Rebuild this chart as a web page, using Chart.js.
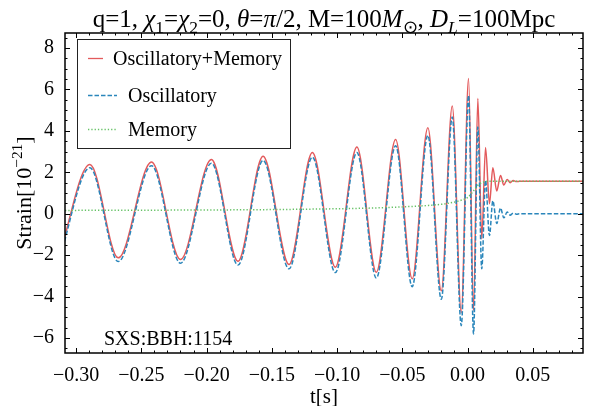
<!DOCTYPE html>
<html>
<head>
<meta charset="utf-8">
<script src="https://cdn.jsdelivr.net/npm/chart.js@4.4.1/dist/chart.umd.min.js"></script>
<style>
  html, body { margin: 0; padding: 0; background: #fff; }
  #wrap { width: 596px; height: 406px; }
</style>
</head>
<body>
<div id="wrap"><canvas id="chart" width="596" height="406"></canvas></div>
<script>
(function(){
  // extrema of the waveform (t in s, strain in 1e-21)
  const extremaTimes = [-0.3130, -0.2894, -0.2677, -0.2422, -0.2200, -0.1963, -0.1759, -0.1567,
    -0.1368, -0.1189, -0.1013, -0.0848, -0.0699, -0.0551, -0.0424, -0.0304, -0.0201, -0.0117,
    -0.0048, 0.0008, 0.0046, 0.0079, 0.0109, 0.0138, 0.0168, 0.0194, 0.0224, 0.0253, 0.0278,
    0.0304, 0.0327, 0.0350, 0.0375, 0.0400, 0.0885];
  const totalStrain = [-2.05, 2.38, -2.13, 2.49, -2.21, 2.62, -2.29, 2.77,
    -2.45, 2.95, -2.58, 3.22, -2.82, 3.58, -3.14, 4.15, -3.72, 5.20,
    -4.78, 6.52, -4.67, 5.56, -1.21, 3.19, 0.48, 2.22, 1.10, 1.85, 1.38,
    1.65, 1.50, 1.60, 1.55, 1.57, 1.57];
  const oscStrain = [-2.23, 2.22, -2.31, 2.32, -2.39, 2.44, -2.48, 2.57,
    -2.66, 2.73, -2.84, 2.95, -3.10, 3.28, -3.52, 3.78, -4.13, 4.67,
    -5.40, 5.71, -5.80, 4.18, -2.66, 1.61, -1.05, 0.62, -0.47, 0.28, -0.20,
    0.08, -0.07, 0.03, -0.02, 0.00, 0.00];
  const memoryTimes = [-0.3085, -0.25, -0.20, -0.15, -0.10, -0.07, -0.05, -0.03, -0.015,
    -0.005, 0.000, 0.004, 0.008, 0.012, 0.016, 0.0885];
  const memoryStrain = [0.16, 0.17, 0.18, 0.20, 0.24, 0.28, 0.33, 0.40, 0.50,
    0.65, 0.78, 1.05, 1.38, 1.52, 1.57, 1.57];

  const xTickValues = [-0.30, -0.25, -0.20, -0.15, -0.10, -0.05, 0.00, 0.05];
  const yTickValues = [-6, -4, -2, 0, 2, 4, 6, 8];
  const seriesNames = ["Oscillatory+Memory", "Oscillatory", "Memory"];

  const RED = "#e35a5c", BLUE = "#2a86bb", GREEN = "#66c266";
  const FONT = "'Liberation Serif', 'Times New Roman', serif";

  const toPoints = (xs, ys) => xs.map((x, i) => ({ x: x, y: ys[i] }));
  const minusSign = s => String(s).replace("-", "\u2212");

  function runsWidth(ctx, runs, size){
    let w = 0;
    runs.forEach(r => {
      const s = (r.sub || r.sup) ? size * 0.7 : size;
      ctx.font = (r.i ? "italic " : "") + s + "px " + FONT;
      w += ctx.measureText(r.t).width;
    });
    return w;
  }

  function drawRuns(ctx, runs, x, y, size){
    ctx.textBaseline = "alphabetic";
    ctx.textAlign = "left";
    runs.forEach(r => {
      const s = (r.sub || r.sup) ? size * 0.7 : size;
      ctx.font = (r.i ? "italic " : "") + s + "px " + FONT;
      let dy = 0;
      if (r.sub) dy = size * 0.22;
      if (r.sup) dy = -size * 0.42;
      ctx.fillText(r.t, x, y + dy);
      x += ctx.measureText(r.t).width;
    });
  }

  const decorations = {
    id: "decorations",
    afterDatasetsDraw(chart){
      const { ctx, chartArea: a, scales: { x, y } } = chart;
      ctx.save();
      ctx.strokeStyle = "#000";
      ctx.lineWidth = 1;
      ctx.beginPath();
      // minor + major ticks, pointing inward on all four sides
      for (let k = -31; k <= 8; k++) {
        const px = Math.round(x.getPixelForValue(k / 100)) + 0.5;
        if (px < a.left || px > a.right) continue;
        const len = (k % 5 === 0) ? 5 : 2.5;
        ctx.moveTo(px, a.bottom); ctx.lineTo(px, a.bottom - len);
        ctx.moveTo(px, a.top); ctx.lineTo(px, a.top + len);
      }
      for (let k = -14; k <= 18; k++) {
        const py = Math.round(y.getPixelForValue(k / 2)) + 0.5;
        if (py < a.top || py > a.bottom) continue;
        const len = (k % 4 === 0) ? 5 : 2.5;
        ctx.moveTo(a.left, py); ctx.lineTo(a.left + len, py);
        ctx.moveTo(a.right, py); ctx.lineTo(a.right - len, py);
      }
      ctx.stroke();
      ctx.lineWidth = 1.5;
      ctx.strokeRect(a.left, a.top, a.right - a.left, a.bottom - a.top);

      // legend box
      ctx.lineWidth = 1;
      ctx.strokeStyle = "#222";
      ctx.fillStyle = "#fff";
      ctx.fillRect(77.5, 39.5, 213, 109);
      ctx.strokeRect(77.5, 39.5, 213, 109);
      const rows = [
        { name: seriesNames[0], color: RED, dash: [], y: 58.5, x1: 103, tx: 113 },
        { name: seriesNames[1], color: BLUE, dash: [4.5, 2], y: 95.5, x1: 117, tx: 128 },
        { name: seriesNames[2], color: GREEN, dash: [1.3, 2], y: 129.5, x1: 117, tx: 128 }
      ];
      rows.forEach(r => {
        ctx.strokeStyle = r.color;
        ctx.lineWidth = 1.3;
        ctx.setLineDash(r.dash);
        ctx.beginPath();
        ctx.moveTo(88, r.y); ctx.lineTo(r.x1, r.y);
        ctx.stroke();
        ctx.setLineDash([]);
        ctx.fillStyle = "#000";
        ctx.font = "20px " + FONT;
        ctx.textBaseline = "middle";
        ctx.textAlign = "left";
        ctx.fillText(r.name, r.tx, r.y + 1);
      });

      // run label
      ctx.fillStyle = "#000";
      ctx.font = "20px " + FONT;
      ctx.textBaseline = "alphabetic";
      ctx.fillText("SXS:BBH:1154", 104, 345);

      // title
      const titleRuns = [
        { t: "q=1, " }, { t: "\u03c7", i: 1 }, { t: "1", sub: 1 }, { t: "=" },
        { t: "\u03c7", i: 1 }, { t: "2", sub: 1 }, { t: "=0, " }, { t: "\u03b8", i: 1 },
        { t: "=" }, { t: "\u03c0", i: 1 }, { t: "/2, M=100" }, { t: "M", i: 1 },
        { t: "\u2299", sub: 1 }, { t: ", " }, { t: "D", i: 1 }, { t: "L", i: 1, sub: 1 },
        { t: "=100Mpc" }
      ];
      const tSize = 25;
      const tw = runsWidth(ctx, titleRuns, tSize);
      drawRuns(ctx, titleRuns, (a.left + a.right) / 2 - tw / 2, 27, tSize);

      // x label
      ctx.font = "21px " + FONT;
      ctx.textAlign = "center";
      ctx.textBaseline = "alphabetic";
      ctx.fillText("t[s]", (a.left + a.right) / 2, 403);

      // y label
      const yRuns = [{ t: "Strain[10" }, { t: "\u221221", sup: 1 }, { t: "]" }];
      ctx.save();
      ctx.translate(31, (a.top + a.bottom) / 2);
      ctx.rotate(-Math.PI / 2);
      const yw = runsWidth(ctx, yRuns, 22);
      drawRuns(ctx, yRuns, -yw / 2, 0, 22);
      ctx.restore();

      ctx.restore();
    }
  };

  const ctx = document.getElementById("chart").getContext("2d");
  new Chart(ctx, {
    type: "line",
    data: {
      datasets: [
        {
          label: seriesNames[0],
          data: toPoints(extremaTimes, totalStrain),
          borderColor: RED,
          borderWidth: 1.5,
          pointRadius: 0,
          cubicInterpolationMode: "monotone",
          order: 3
        },
        {
          label: seriesNames[1],
          data: toPoints(extremaTimes, oscStrain),
          borderColor: BLUE,
          borderWidth: 1.5,
          borderDash: [4.5, 2],
          pointRadius: 0,
          cubicInterpolationMode: "monotone",
          order: 2
        },
        {
          label: seriesNames[2],
          data: toPoints(memoryTimes, memoryStrain),
          borderColor: GREEN,
          borderWidth: 1.5,
          borderDash: [1.3, 2],
          pointRadius: 0,
          cubicInterpolationMode: "monotone",
          order: 1
        }
      ]
    },
    options: {
      responsive: false,
      animation: false,
      devicePixelRatio: 1,
      layout: { padding: { top: 33, right: 13, left: 0, bottom: 0 } },
      plugins: {
        legend: { display: false },
        title: { display: false },
        tooltip: { enabled: false }
      },
      scales: {
        x: {
          type: "linear",
          min: -0.3085,
          max: 0.0885,
          grid: { display: false },
          border: { display: false },
          afterBuildTicks: s => { s.ticks = xTickValues.map(v => ({ value: v })); },
          afterFit: s => { s.height = 53; },
          ticks: {
            color: "#000",
            padding: 3,
            maxRotation: 0,
            autoSkip: false,
            font: { family: FONT, size: 20 },
            callback: v => minusSign(Number(v).toFixed(2))
          }
        },
        y: {
          type: "linear",
          min: -6.72,
          max: 8.72,
          grid: { display: false },
          border: { display: false },
          afterBuildTicks: s => { s.ticks = yTickValues.map(v => ({ value: v })); },
          afterFit: s => { s.width = 65; },
          ticks: {
            color: "#000",
            padding: 3,
            autoSkip: false,
            font: { family: FONT, size: 20 },
            callback: v => minusSign(v)
          }
        }
      }
    },
    plugins: [decorations]
  });
})();
</script>
</body>
</html>
